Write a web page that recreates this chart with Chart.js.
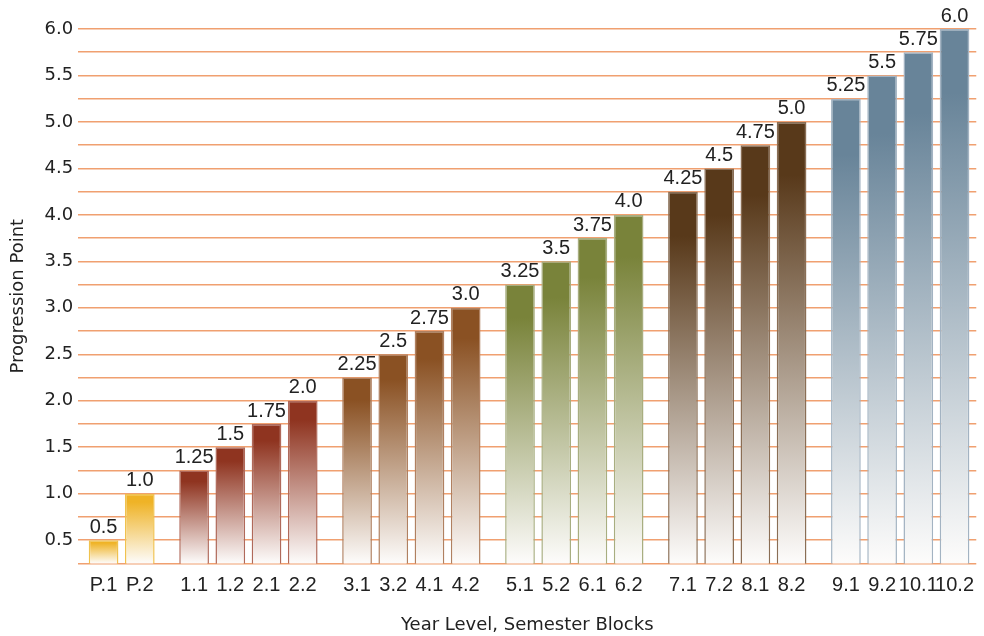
<!DOCTYPE html>
<html>
<head>
<meta charset="utf-8">
<script src="https://cdn.jsdelivr.net/npm/chart.js@4/dist/chart.umd.min.js"></script>
<style>
  html, body { margin: 0; padding: 0; background: #fff; }
  #wrap { width: 984px; height: 636px; position: relative; }
</style>
</head>
<body>
<div id="wrap"><canvas id="grafico"></canvas></div>
<script>
// Datos del gráfico
const categorias = ['P.1', 'P.2', '1.1', '1.2', '2.1', '2.2', '3.1', '3.2', '4.1', '4.2',
    '5.1', '5.2', '6.1', '6.2', '7.1', '7.2', '8.1', '8.2', '9.1', '9.2', '10.1', '10.2'];
const valores = [0.5, 1.0, 1.25, 1.5, 1.75, 2.0, 2.25, 2.5, 2.75, 3.0,
    3.25, 3.5, 3.75, 4.0, 4.25, 4.5, 4.75, 5.0, 5.25, 5.5, 5.75, 6.0];
const tamanosGrupo = [2, 4, 4, 4, 4, 4];
const coloresGrupo = ['#EFB326', '#8F3420', '#8A5123', '#79833A', '#58391A', '#688499'];
const bordesGrupo = ['#F0C24E', '#B0695A', '#B08060', '#A8AE80', '#8A6E55', '#A3B3C2'];

// Grupo de cada barra y posición en el eje (con medio hueco entre grupos)
const grupoDe = [];
tamanosGrupo.forEach((n, g) => { for (let k = 0; k < n; k++) grupoDe.push(g); });
const posiciones = categorias.map((c, i) => i + 0.5 * grupoDe[i]);

function formatoValor(v) {
    return Number.isInteger(v) ? v.toFixed(1) : String(v);
}

function degradado(ctx) {
    const color = coloresGrupo[grupoDe[ctx.dataIndex]];
    const chart = ctx.chart;
    if (!chart.chartArea || ctx.type !== 'data') return color;
    const y = chart.scales.y;
    const arriba = y.getPixelForValue(ctx.raw.y);
    const abajo = y.getPixelForValue(y.min);
    const g = chart.ctx.createLinearGradient(0, arriba, 0, abajo);
    g.addColorStop(0, color);
    g.addColorStop(0.12, color);
    g.addColorStop(1, '#FDFCFB');
    return g;
}

const fuenteEstrecha = '"Liberation Sans Narrow", "Liberation Sans", Arial, sans-serif';
const fuenteAncha = '"DejaVu Sans", Arial, sans-serif';

// Etiquetas de valor encima de cada barra
const etiquetasValor = {
    id: 'etiquetasValor',
    afterDatasetsDraw(chart) {
        const c = chart.ctx;
        const meta = chart.getDatasetMeta(0);
        c.save();
        c.font = '20px ' + fuenteEstrecha;
        c.fillStyle = '#222';
        c.textAlign = 'center';
        c.textBaseline = 'bottom';
        meta.data.forEach((barra, i) => {
            c.fillText(formatoValor(valores[i]), barra.x, barra.y - 3);
        });
        c.restore();
    }
};

new Chart(document.getElementById('grafico').getContext('2d'), {
    type: 'bar',
    data: {
        datasets: [{
            data: valores.map((v, i) => ({ x: posiciones[i], y: v })),
            backgroundColor: degradado,
            borderColor: (ctx) => bordesGrupo[grupoDe[ctx.dataIndex]],
            borderWidth: 1.5,
            borderSkipped: false,
            barPercentage: 0.82,
            categoryPercentage: 1
        }]
    },
    options: {
        responsive: true,
        maintainAspectRatio: false,
        animation: false,
        layout: { padding: { top: 29, right: 0, left: 8, bottom: 0 } },
        plugins: {
            legend: { display: false },
            tooltip: { enabled: false }
        },
        scales: {
            x: {
                type: 'linear',
                offset: false,
                min: -0.7,
                max: posiciones[posiciones.length - 1] + 0.6,
                grid: { display: false, drawTicks: false },
                border: { display: false },
                afterBuildTicks: (scale) => {
                    scale.ticks = posiciones.map(p => ({ value: p }));
                },
                ticks: {
                    autoSkip: false,
                    maxRotation: 0,
                    color: '#222',
                    font: { family: fuenteEstrecha, size: 20 },
                    padding: 10,
                    callback: (valor, indice) => categorias[indice]
                },
                title: {
                    display: true,
                    text: 'Year Level, Semester Blocks',
                    color: '#222',
                    font: { family: fuenteAncha, size: 18 },
                    padding: { top: 7, bottom: 0 }
                }
            },
            y: {
                min: 0.25,
                max: 6.0,
                grid: { color: '#F0A070', lineWidth: 1.5, drawTicks: false },
                border: { display: false },
                ticks: {
                    stepSize: 0.25,
                    autoSkip: false,
                    color: '#222',
                    font: { family: fuenteAncha, size: 18 },
                    padding: 5,
                    callback: (v) => (Math.abs(v * 2 - Math.round(v * 2)) < 1e-6 ? v.toFixed(1) : '')
                },
                title: {
                    display: true,
                    text: 'Progression Point',
                    color: '#222',
                    font: { family: fuenteAncha, size: 18 },
                    padding: { top: 0, bottom: 10 }
                }
            }
        }
    },
    plugins: [etiquetasValor]
});
</script>
</body>
</html>
